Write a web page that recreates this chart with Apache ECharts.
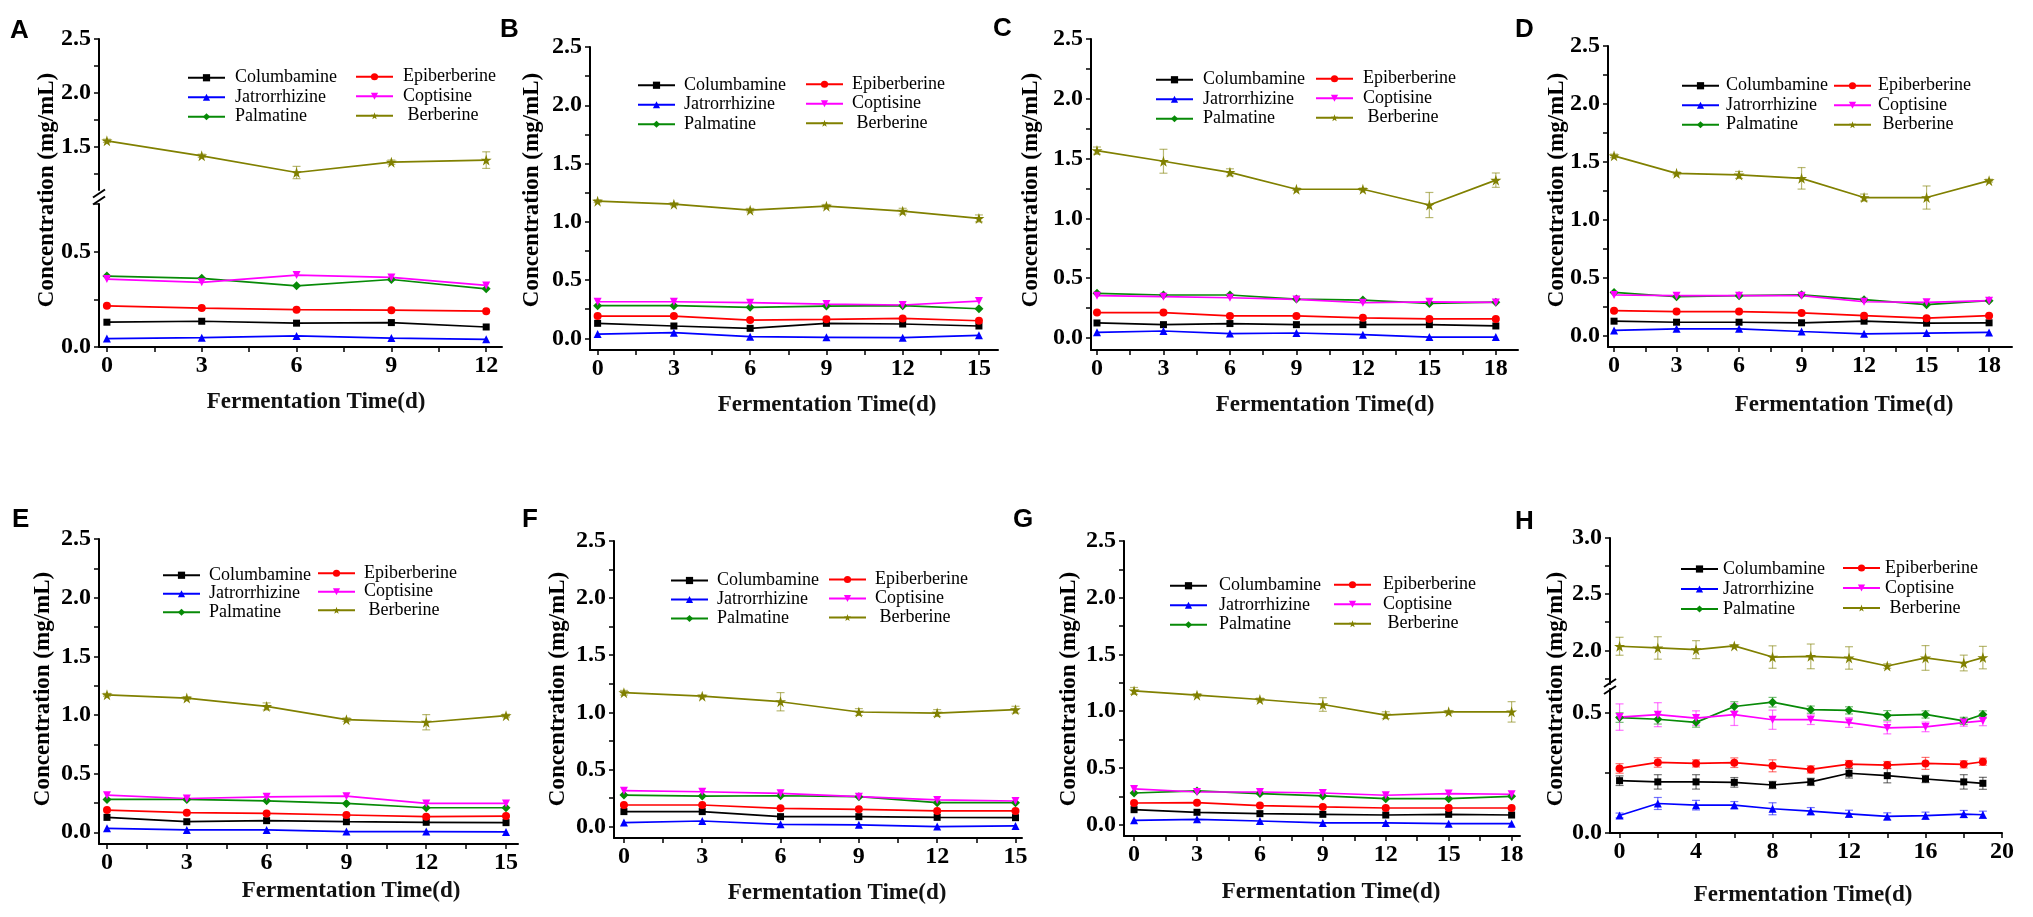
<!DOCTYPE html>
<html><head><meta charset="utf-8">
<script src="https://cdn.jsdelivr.net/npm/echarts@6/dist/echarts.min.js"></script>
<style>html,body{margin:0;padding:0;background:#fff}#c{width:2033px;height:917px}</style>
</head><body><div id="c"></div><script>
// ---------------- DATA ----------------
const NAMES = ['Columbamine','Jatrorrhizine','Palmatine','Epiberberine','Coptisine','Berberine'];

const A_days = [0,3,6,9,12];
const A_Col = [0.130,0.135,0.125,0.128,0.105];
const A_Jat = [0.044,0.049,0.058,0.047,0.040];
const A_Pal = [0.372,0.360,0.321,0.354,0.305];
const A_Epi = [0.216,0.204,0.196,0.193,0.188];
const A_Cop = [0.356,0.339,0.377,0.365,0.323];
const A_Ber = [1.556,1.417,1.262,1.358,1.377];
const A_BerErr = [0.015,0.015,0.057,0.020,0.077];

const B_days = [0,3,6,9,12,15];
const B_Col = [0.129,0.106,0.086,0.129,0.123,0.106];
const B_Jat = [0.037,0.049,0.014,0.009,0.006,0.026];
const B_Pal = [0.280,0.280,0.266,0.277,0.280,0.254];
const B_Epi = [0.191,0.191,0.157,0.163,0.171,0.151];
const B_Cop = [0.314,0.314,0.306,0.294,0.286,0.320];
const B_Ber = [1.177,1.151,1.100,1.134,1.091,1.029];
const B_BerErr = [0.012,0.012,0.015,0.015,0.025,0.030];

const C_days = [0,3,6,9,12,15,18];
const C_Col = [0.126,0.112,0.121,0.112,0.112,0.112,0.101];
const C_Jat = [0.048,0.059,0.037,0.042,0.028,0.008,0.008];
const C_Pal = [0.374,0.360,0.360,0.326,0.317,0.289,0.300];
const C_Epi = [0.213,0.213,0.185,0.185,0.169,0.160,0.160];
const C_Cop = [0.354,0.346,0.337,0.323,0.295,0.303,0.298];
const C_Ber = [1.567,1.478,1.385,1.244,1.244,1.112,1.320];
const C_BerErr = [0.030,0.100,0.030,0.010,0.010,0.105,0.060];

const D_days = [0,3,6,9,12,15,18];
const D_Col = [0.123,0.114,0.114,0.109,0.123,0.106,0.109];
const D_Jat = [0.043,0.057,0.057,0.034,0.014,0.020,0.026];
const D_Pal = [0.371,0.334,0.343,0.351,0.309,0.266,0.300];
const D_Epi = [0.214,0.206,0.206,0.194,0.171,0.149,0.171];
const D_Cop = [0.349,0.343,0.343,0.343,0.291,0.286,0.300];
const D_Ber = [1.551,1.400,1.386,1.357,1.191,1.191,1.337];
const D_BerErr = [0.015,0.012,0.030,0.093,0.030,0.100,0.012];

const E_days = [0,3,6,9,12,15];
const E_Col = [0.127,0.090,0.099,0.090,0.085,0.082];
const E_Jat = [0.034,0.020,0.020,0.006,0.006,0.003];
const E_Pal = [0.280,0.280,0.268,0.246,0.209,0.209];
const E_Epi = [0.189,0.167,0.161,0.147,0.133,0.138];
const E_Cop = [0.316,0.288,0.302,0.308,0.246,0.246];
const E_Ber = [1.172,1.144,1.073,0.960,0.938,0.994];
const E_BerErr = [0.012,0.012,0.030,0.015,0.065,0.012];

const F_days = [0,3,6,9,12,15];
const F_Col = [0.131,0.131,0.087,0.087,0.081,0.078];
const F_Jat = [0.035,0.049,0.020,0.015,0.000,0.006];
const F_Pal = [0.276,0.267,0.270,0.262,0.209,0.209];
const F_Epi = [0.189,0.189,0.160,0.151,0.137,0.137];
const F_Cop = [0.314,0.305,0.291,0.262,0.233,0.224];
const F_Ber = [1.172,1.142,1.093,1.003,0.994,1.023];
const F_BerErr = [0.020,0.010,0.080,0.030,0.030,0.030];

const G_days = [0,3,6,9,12,15,18];
const G_Col = [0.132,0.109,0.097,0.091,0.085,0.091,0.085];
const G_Jat = [0.038,0.047,0.032,0.015,0.015,0.009,0.009];
const G_Pal = [0.279,0.297,0.274,0.253,0.229,0.229,0.250];
const G_Epi = [0.191,0.194,0.168,0.156,0.147,0.147,0.147];
const G_Cop = [0.315,0.288,0.288,0.279,0.259,0.274,0.268];
const G_Ber = [1.179,1.141,1.103,1.059,0.965,0.994,0.994];
const G_BerErr = [0.030,0.012,0.012,0.060,0.030,0.012,0.090];

const H_days = [0,2,4,6,8,10,12,14,16,18,19];
const H_Col = [0.218,0.213,0.213,0.211,0.200,0.213,0.249,0.239,0.225,0.213,0.207];
const H_Jat = [0.073,0.123,0.116,0.116,0.101,0.091,0.080,0.069,0.072,0.079,0.076];
const H_Pal = [0.481,0.474,0.461,0.527,0.545,0.514,0.511,0.490,0.494,0.467,0.494];
const H_Epi = [0.269,0.294,0.290,0.293,0.280,0.265,0.287,0.283,0.290,0.286,0.297];
const H_Cop = [0.483,0.493,0.479,0.493,0.472,0.472,0.460,0.438,0.442,0.460,0.467];
const H_Ber = [2.036,2.021,2.006,2.039,1.940,1.946,1.932,1.860,1.932,1.887,1.935];
const H_ColErr = [0.020,0.030,0.030,0.020,0.015,0.015,0.020,0.030,0.015,0.030,0.025];
const H_JatErr = [0.010,0.025,0.020,0.015,0.025,0.015,0.015,0.015,0.015,0.015,0.015];
const H_PalErr = [0.020,0.020,0.020,0.020,0.020,0.015,0.015,0.020,0.015,0.015,0.015];
const H_EpiErr = [0.020,0.020,0.015,0.020,0.025,0.015,0.015,0.015,0.025,0.015,0.015];
const H_CopErr = [0.055,0.050,0.030,0.045,0.040,0.020,0.020,0.025,0.020,0.015,0.020];
const H_BerErr = [0.080,0.100,0.080,0.012,0.100,0.110,0.100,0.020,0.110,0.070,0.100];

// tick values / tick labels
const X12_TICKS = [0,1.5,3,4.5,6,7.5,9,10.5,12];
const X12_LABELS = [0,3,6,9,12];
const X15_TICKS = [0,1.5,3,4.5,6,7.5,9,10.5,12,13.5,15];
const X15_LABELS = [0,3,6,9,12,15];
const X18_TICKS = [0,1.5,3,4.5,6,7.5,9,10.5,12,13.5,15,16.5,18];
const X18_LABELS = [0,3,6,9,12,15,18];
const X20_TICKS = [0,2,4,6,8,10,12,14,16,18,20];
const X20_LABELS = [0,4,8,12,16,20];
const Y_TICKS = [0,0.25,0.5,0.75,1,1.25,1.5,1.75,2,2.25,2.5];
const Y_LABELS = [0,0.5,1,1.5,2,2.5];
const YA_LOW_TICKS = [0,0.25,0.5,0.75];
const YA_LOW_LABELS = [0,0.5];
const YA_UP_TICKS = [1.25,1.5,1.75,2,2.25,2.5];
const YA_UP_LABELS = [1.5,2,2.5];
const YH_LOW_TICKS = [0,0.25,0.5];
const YH_LOW_LABELS = [0,0.5];
const YH_UP_TICKS = [1.75,2,2.25,2.5,2.75,3];
const YH_UP_LABELS = [2,2.5,3];

// ---------------- STYLE / LAYOUT ----------------
const SERIF = "'Liberation Serif','Times New Roman',serif";
const SANS = "'Liberation Sans',Arial,sans-serif";
const STAR = 'path://M50,2 L61,37 L98,37 L68,59 L79,95 L50,73 L21,95 L32,59 L2,37 L39,37 Z';
const STYLE = {
  Columbamine:  {color:'#000000', symbol:'rect', size:7, rot:0},
  Jatrorrhizine:{color:'#0000ff', symbol:'triangle', size:8, rot:0},
  Palmatine:    {color:'#078a07', symbol:'diamond', size:9, rot:0},
  Epiberberine: {color:'#ff0000', symbol:'circle', size:8, rot:0},
  Coptisine:    {color:'#ff00ff', symbol:'triangle', size:8, rot:180},
  Berberine:    {color:'#808000', symbol:STAR, size:11, rot:0}
};

const panels = [
 {id:'A', days:A_days, vals:[A_Col,A_Jat,A_Pal,A_Epi,A_Cop,A_Ber], errs:{Berberine:A_BerErr},
  xr:[-0.25,12.5], xt:X12_TICKS, xl:X12_LABELS,
  grids:[{left:99,top:204,width:403,height:143,y:[0,0.75],t:YA_LOW_TICKS,l:YA_LOW_LABELS},
         {left:99,top:39,width:403,height:151,y:[1.1,2.5],t:YA_UP_TICKS,l:YA_UP_LABELS,upper:true}],
  lg:{l:[182,63],r:[350,62],lh:19.5,pad:5}, letter:[10,31], yName:[47,190], xName:[316,402]},
 {id:'B', days:B_days, vals:[B_Col,B_Jat,B_Pal,B_Epi,B_Cop,B_Ber], errs:{Berberine:B_BerErr},
  xr:[-0.3,15.75], xt:X15_TICKS, xl:X15_LABELS,
  grids:[{left:590,top:47,width:408,height:303,y:[-0.1,2.5],t:Y_TICKS,l:Y_LABELS}],
  lg:{l:[632,70.5],r:[800,69.5],lh:19.5,pad:4}, letter:[500,30], yName:[532,190], xName:[827,405]},
 {id:'C', days:C_days, vals:[C_Col,C_Jat,C_Pal,C_Epi,C_Cop,C_Ber], errs:{Berberine:C_BerErr},
  xr:[-0.27,19], xt:X18_TICKS, xl:X18_LABELS,
  grids:[{left:1091,top:39,width:427,height:311,y:[-0.1,2.5],t:Y_TICKS,l:Y_LABELS}],
  lg:{l:[1150,65],r:[1310,64],lh:19.5,pad:5}, letter:[993,29], yName:[1031,190], xName:[1325,405]},
 {id:'D', days:D_days, vals:[D_Col,D_Jat,D_Pal,D_Epi,D_Cop,D_Ber], errs:{Berberine:D_BerErr},
  xr:[-0.29,19.1], xt:X18_TICKS, xl:X18_LABELS,
  grids:[{left:1608,top:46,width:404,height:301,y:[-0.1,2.5],t:Y_TICKS,l:Y_LABELS}],
  lg:{l:[1676,71],r:[1828,71],lh:19.5,pad:2}, letter:[1515,30], yName:[1557,190], xName:[1844,405]},
 {id:'E', days:E_days, vals:[E_Col,E_Jat,E_Pal,E_Epi,E_Cop,E_Ber], errs:{Berberine:E_BerErr},
  xr:[-0.3,15.45], xt:X15_TICKS, xl:X15_LABELS,
  grids:[{left:99,top:539,width:419,height:305,y:[-0.1,2.5],t:Y_TICKS,l:Y_LABELS}],
  lg:{l:[157,561],r:[312,559],lh:18.5,pad:4}, letter:[12,520], yName:[43,689], xName:[351,891]},
 {id:'F', days:F_days, vals:[F_Col,F_Jat,F_Pal,F_Epi,F_Cop,F_Ber], errs:{Berberine:F_BerErr},
  xr:[-0.38,15.25], xt:X15_TICKS, xl:X15_LABELS,
  grids:[{left:614,top:541,width:408,height:297,y:[-0.1,2.5],t:Y_TICKS,l:Y_LABELS}],
  lg:{l:[665,566],r:[823,565],lh:19,pad:4}, letter:[522,520], yName:[558,689], xName:[837,893]},
 {id:'G', days:G_days, vals:[G_Col,G_Jat,G_Pal,G_Epi,G_Cop,G_Ber], errs:{Berberine:G_BerErr},
  xr:[-0.48,18.4], xt:X18_TICKS, xl:X18_LABELS,
  grids:[{left:1124,top:541,width:396,height:295,y:[-0.1,2.5],t:Y_TICKS,l:Y_LABELS}],
  lg:{l:[1164,571],r:[1328,570],lh:19.5,pad:7}, letter:[1013,520], yName:[1069,689], xName:[1331,892]},
 {id:'H', days:H_days, vals:[H_Col,H_Jat,H_Pal,H_Epi,H_Cop,H_Ber],
  errs:{Columbamine:H_ColErr,Jatrorrhizine:H_JatErr,Palmatine:H_PalErr,Epiberberine:H_EpiErr,Coptisine:H_CopErr,Berberine:H_BerErr},
  xr:[-0.5,20], xt:X20_TICKS, xl:X20_LABELS,
  grids:[{left:1610,top:689,width:392,height:144,y:[0,0.6],t:YH_LOW_TICKS,l:YH_LOW_LABELS},
         {left:1610,top:538,width:392,height:146,y:[1.7,3.0],t:YH_UP_TICKS,l:YH_UP_LABELS,upper:true}],
  lg:{l:[1675,554],r:[1837,553],lh:20,pad:0}, letter:[1515,522], yName:[1556,689], xName:[1803,895]}
];

function hexA(hex, a){
  const n = parseInt(hex.slice(1),16);
  return 'rgba(' + (n>>16&255) + ',' + (n>>8&255) + ',' + (n&255) + ',' + a + ')';
}
function renderErr(params, api){
  const x = api.value(0), y = api.value(1), e = api.value(2);
  const hi = api.coord([x, y + e]), lo = api.coord([x, y - e]);
  const w = 4;
  const st = {stroke: api.visual('color'), lineWidth: 1.2};
  return {type:'group', children:[
    {type:'line', shape:{x1:hi[0],y1:hi[1],x2:lo[0],y2:lo[1]}, style:st},
    {type:'line', shape:{x1:hi[0]-w,y1:hi[1],x2:hi[0]+w,y2:hi[1]}, style:st},
    {type:'line', shape:{x1:lo[0]-w,y1:lo[1],x2:lo[0]+w,y2:lo[1]}, style:st}
  ]};
}

const grid=[], xAxis=[], yAxis=[], series=[], legend=[], graphic=[];
const tickLabel = {fontFamily:SERIF, fontWeight:'bold', fontSize:24, color:'#000'};

panels.forEach(p => {
  const broken = p.grids.length > 1;
  p.grids.forEach(g => {
    const gi = grid.length;
    grid.push({left:g.left, top:g.top, width:g.width, height:g.height});
    xAxis.push({type:'value', gridIndex:gi, min:p.xr[0], max:p.xr[1], show:!g.upper,
      axisLine:{show:true, onZero:false, lineStyle:{color:'#000', width:2}},
      axisTick:{show:true, customValues:p.xt, length:5, lineStyle:{color:'#000', width:1.5}},
      axisLabel:Object.assign({customValues:p.xl, margin:7}, tickLabel),
      splitLine:{show:false}});
    yAxis.push({type:'value', gridIndex:gi, min:g.y[0], max:g.y[1],
      axisLine:{show:true, onZero:false, lineStyle:{color:'#000', width:2}},
      axisTick:{show:true, customValues:g.t, length:5, lineStyle:{color:'#000', width:1.5}},
      axisLabel:Object.assign({customValues:g.l, margin:8, formatter:v => Number(v).toFixed(1)}, tickLabel),
      splitLine:{show:false}});
    NAMES.forEach((n, k) => {
      const isBer = n === 'Berberine';
      if (broken && (isBer !== !!g.upper)) return;
      const s = STYLE[n];
      series.push({type:'line', name:n, xAxisIndex:gi, yAxisIndex:gi,
        data:p.days.map((d,i) => [d, p.vals[k][i]]),
        symbol:s.symbol, symbolSize:s.size, symbolRotate:s.rot, showAllSymbol:true,
        lineStyle:{color:s.color, width:1.7}, itemStyle:{color:s.color},
        z:3, animation:false});
      if (p.errs[n]) {
        const e = p.errs[n];
        series.push({type:'custom', xAxisIndex:gi, yAxisIndex:gi, renderItem:renderErr,
          itemStyle:{color:hexA(s.color, 0.55)}, encode:{x:0, y:1},
          data:p.days.map((d,i) => [d, p.vals[k][i], e[i]]), z:2, animation:false, silent:true});
      }
    });
  });
  // legends (two columns)
  const base = {orient:'vertical', itemWidth:37, itemHeight:9, itemGap:0, selectedMode:false,
    textStyle:{fontFamily:SERIF, fontSize:18, color:'#000', lineHeight:p.lg.lh, padding:[0,0,0,p.lg.pad]}};
  legend.push(Object.assign({}, base, {left:p.lg.l[0], top:p.lg.l[1], data:['Columbamine','Jatrorrhizine','Palmatine']}));
  legend.push(Object.assign({}, base, {left:p.lg.r[0], top:p.lg.r[1], data:['Epiberberine','Coptisine','Berberine'],
    formatter: nm => nm === 'Berberine' ? ' ' + nm : nm}));
  // texts
  graphic.push({type:'text', x:p.letter[0], y:p.letter[1],
    style:{text:p.id, font:'bold 26px ' + SANS, fill:'#000', align:'left', verticalAlign:'middle'}});
  graphic.push({type:'text', x:p.yName[0], y:p.yName[1], rotation:Math.PI/2,
    style:{text:'Concentration (mg/mL)', font:'bold 23px ' + SERIF, fill:'#000', align:'center', verticalAlign:'middle'}});
  graphic.push({type:'text', x:p.xName[0], y:p.xName[1],
    style:{text:'Fermentation Time(d)', font:'bold 23px ' + SERIF, fill:'#111', align:'center', verticalAlign:'middle'}});
  // axis break marks
  if (broken) {
    const lo = p.grids[0], up = p.grids[1];
    const xb = lo.left, yc = (up.top + up.height + lo.top) / 2;
    [-3.5, 3.5].forEach(dy => graphic.push({type:'line',
      shape:{x1:xb-6, y1:yc+dy+4, x2:xb+6, y2:yc+dy-4}, style:{stroke:'#000', lineWidth:2}}));
  }
});

const chart = echarts.init(document.getElementById('c'), null, {renderer:'canvas'});
chart.setOption({backgroundColor:'#fff', animation:false, grid, xAxis, yAxis, series, legend, graphic});
</script></body></html>
